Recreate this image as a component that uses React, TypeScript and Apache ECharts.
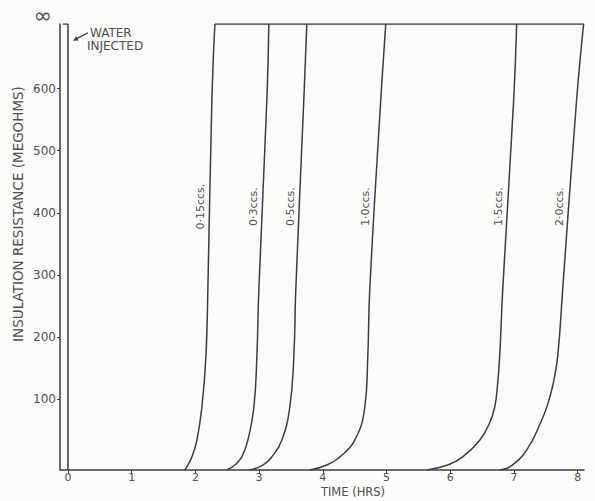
import React, { useEffect, useRef } from "react";
import * as echarts from "echarts";

// ---- axis / tick data ----
const X_TICKS = [0, 1, 2, 3, 4, 5, 6, 7, 8];
const Y_TICKS = [100, 200, 300, 400, 500, 600];
const INFINITY_VALUE = 704; // "∞" level at the top of the chart
const AXIS_FLOOR = -14;
const X_MIN = -0.125;
const X_MAX = 8.1;

// ---- curves: [time (hrs), insulation resistance (megohms)] ----
const curveNames = ["0·15ccs.", "0·3ccs.", "0·5ccs.", "1·0ccs.", "1·5ccs.", "2·0ccs."];
const curve015 = [[1.835, -14], [1.882, -6], [1.945, 7], [2.024, 34], [2.102, 87], [2.165, 168], [2.196, 276], [2.259, 582], [2.306, 704]];
const curve03 = [[2.494, -14], [2.62, -6], [2.729, 7], [2.824, 34], [2.918, 87], [2.965, 168], [2.996, 276], [3.122, 582], [3.153, 704]];
const curve05 = [[2.855, -14], [3.059, -6], [3.2, 7], [3.357, 34], [3.482, 87], [3.545, 168], [3.576, 276], [3.702, 582], [3.749, 704]];
const curve10 = [[3.796, -14], [4.063, -6], [4.267, 7], [4.502, 34], [4.659, 87], [4.706, 168], [4.737, 276], [4.91, 582], [4.988, 704]];
const curve15 = [[5.631, -14], [5.961, -6], [6.196, 7], [6.463, 34], [6.62, 62], [6.698, 87], [6.74, 120], [6.776, 168], [6.824, 276], [6.996, 582], [7.043, 704]];
const curve20 = [[6.776, -14], [6.933, -9], [7.2, 18], [7.435, 66], [7.53, 92], [7.61, 122], [7.686, 168], [7.765, 276], [7.984, 582], [8.094, 704]];
const curves = [curve015, curve03, curve05, curve10, curve15, curve20];

// infinite-resistance line along the top
const infinityLine = [[2.306, 704], [8.1, 704]];
// water injection marker at t = 0
const waterInjected = [[-0.08, 704], [0, 704], [0, -14]];

const LABEL_VALUE = 410;
const WATER_ARROW_VALUE = 677;

const INK = "#3c3c3c";
const TEXT = "#4e4e4e";
const FONT = "DejaVu Sans";

function xAtValue(curve: number[][], v: number) {
  for (let i = 1; i < curve.length; i++) {
    const [x0, y0] = curve[i - 1];
    const [x1, y1] = curve[i];
    if (v >= y0 && v <= y1) return x0 + ((v - y0) / (y1 - y0)) * (x1 - x0);
  }
  return curve[curve.length - 1][0];
}

export default function App() {
  const ref = useRef<HTMLDivElement>(null);
  useEffect(() => {
    if (!ref.current) return;
    const chart = echarts.init(ref.current, null, { renderer: "svg" });
    const lineStyle = { color: INK, width: 1.5 };
    const series: any[] = curves.map((c, i) => ({
      type: "line",
      name: curveNames[i],
      data: c,
      smooth: 0.45,
      showSymbol: false,
      lineStyle,
    }));
    series.push({ type: "line", name: "∞", data: infinityLine, showSymbol: false, lineStyle });
    series.push({ type: "line", name: "Water injected", data: waterInjected, showSymbol: false, lineStyle });

    chart.setOption({
      animation: false,
      backgroundColor: "#fcfcfa",
      grid: { left: 60, right: 11, top: 24, bottom: 31 },
      xAxis: {
        type: "value",
        min: X_MIN,
        max: X_MAX,
        axisLine: { onZero: false, lineStyle: { color: INK, width: 1.5 } },
        axisTick: { show: true, length: 4, customValues: X_TICKS, lineStyle: { color: INK } },
        axisLabel: { customValues: X_TICKS, color: TEXT, fontFamily: FONT, fontSize: 11, margin: 2 },
        splitLine: { show: false },
      },
      yAxis: {
        type: "value",
        min: AXIS_FLOOR,
        max: INFINITY_VALUE,
        axisLine: { show: true, onZero: false, lineStyle: { color: INK, width: 1.5 } },
        axisTick: { show: true, length: 3, customValues: Y_TICKS, lineStyle: { color: INK } },
        axisLabel: { customValues: Y_TICKS, color: TEXT, fontFamily: FONT, fontSize: 12, margin: 4 },
        splitLine: { show: false },
      },
      series,
    });

    const graphic: any[] = [];
    curves.forEach((c, i) => {
      const p = chart.convertToPixel({ seriesIndex: i }, [xAtValue(c, LABEL_VALUE), LABEL_VALUE]) as number[];
      graphic.push({
        type: "text",
        x: p[0] - 9,
        y: p[1],
        rotation: Math.PI / 2,
        style: { text: curveNames[i], fill: TEXT, font: `11px ${FONT}`, align: "center", verticalAlign: "middle" },
      });
    });
    const w = chart.convertToPixel({ seriesIndex: 7 }, [0, WATER_ARROW_VALUE]) as number[];
    const tip = [w[0] + 5, w[1]];
    const tail = [tip[0] + 15, tip[1] - 8];
    graphic.push({ type: "line", shape: { x1: tail[0], y1: tail[1], x2: tip[0] + 3, y2: tip[1] - 1.6 }, style: { stroke: INK, lineWidth: 1.3 } });
    graphic.push({
      type: "polygon",
      shape: { points: [tip, [tip[0] + 5.5, tip[1] - 0.2], [tip[0] + 3.2, tip[1] - 4.6]] },
      style: { fill: INK },
    });
    graphic.push({ type: "text", x: tail[0] + 2, y: tail[1] + 0.5, style: { text: "WATER", fill: TEXT, font: `12px ${FONT}`, verticalAlign: "middle" } });
    graphic.push({ type: "text", x: tail[0] - 1, y: tail[1] + 13, style: { text: "INJECTED", fill: TEXT, font: `12px ${FONT}`, verticalAlign: "middle" } });
    graphic.push({ type: "text", x: 43, y: 15, style: { text: "∞", fill: TEXT, font: `22px ${FONT}`, align: "center", verticalAlign: "middle" } });
    graphic.push({
      type: "text",
      x: 18,
      y: 214,
      rotation: Math.PI / 2,
      style: { text: "INSULATION RESISTANCE (MEGOHMS)", fill: TEXT, font: `13.5px ${FONT}`, align: "center", verticalAlign: "middle" },
    });
    graphic.push({ type: "text", x: 353, y: 492, style: { text: "TIME (HRS)", fill: TEXT, font: `11.5px ${FONT}`, align: "center", verticalAlign: "middle" } });
    chart.setOption({ graphic });

    return () => chart.dispose();
  }, []);
  return <div ref={ref} style={{ position: "fixed", left: 0, top: 0, width: 595, height: 501 }} />;
}
